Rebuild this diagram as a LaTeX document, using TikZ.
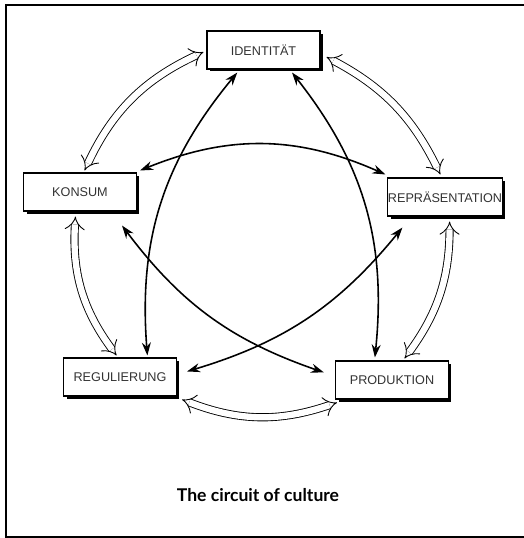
\documentclass[tikz,border=0pt]{standalone}
\usepackage{fontspec}
\setmainfont{Liberation Sans}
\newfontfamily\capfont{Lato}
\usetikzlibrary{arrows.meta, calc, shadows}

\begin{document}
\begin{tikzpicture}[
        x=0.02cm, y=-0.02cm,
        box/.style={rectangle, draw=black, line width=0.6pt, fill=white, minimum width=2.26cm, minimum height=0.76cm, inner sep=0pt, font=\fontsize{7.2}{8}\selectfont, text=black!80, drop shadow={shadow xshift=0.06cm, shadow yshift=-0.05cm, fill=black, opacity=1}},
        hollow/.style={{Implies[length=3mm, width=4.6mm]}-{Implies[length=3mm, width=4.6mm]}, double=white, double distance=3.6pt, line width=0.5pt},
        arr/.style={{Stealth[length=2.6mm, width=1.8mm]}-{Stealth[length=2.6mm, width=1.8mm]}, line width=0.9pt}
      ]
        \useasboundingbox (0,0) rectangle (524,538);
        \draw[line width=1.1pt] (524,5) -- (6,5) -- (6,537) -- (524,537);

        \node[box] (ident) at (263.5,50) {IDENTITÄT};
        \node[box] (konsum) at (80,192) {KONSUM};
        \node[box] (repr) at (445,197) {REPRÄSENTATION};
        \node[box] (regul) at (120,377) {REGULIERUNG};
        \node[box] (prod) at (392,380) {PRODUKTION};

        % outer ring
        \draw[hollow] ($(konsum.north west)!0.54!(konsum.north east)+(0,-2)$) to[bend left=20] ($(ident.west)+(-3,2)$);
        \draw[hollow] ($(ident.east)+(6,7)$) to[bend left=18] ($(repr.north west)!0.46!(repr.north east)+(0,-3)$);
        \draw[hollow] ($(repr.south west)!0.54!(repr.south east)+(0,5)$) to[bend left=18] ($(prod.north west)!0.61!(prod.north east)+(0,-2)$);
        \draw[hollow] ($(prod.south west)+(2,3)$) to[bend left=20] ($(regul.south east)+(5,3)$);
        \draw[hollow] ($(regul.north west)!0.47!(regul.north east)+(0,-2)$) to[bend left=20] ($(konsum.south west)!0.46!(konsum.south east)+(0,5)$);

        % inner links
        \draw[arr] ($(ident.south west)!0.27!(ident.south east)+(0,3)$) to[bend right=22] ($(regul.north west)!0.74!(regul.north east)+(0,-2)$);
        \draw[arr] ($(ident.south west)!0.75!(ident.south east)+(0,3)$) to[bend left=22] ($(prod.north west)!0.35!(prod.north east)+(0,-3)$);
        \draw[arr] ($(konsum.north east)+(3,-2)$) to[bend left=23] ($(repr.north west)+(-2,-3)$);
        \draw[arr] ($(konsum.south east)+(-15,14)$) to[bend right=17] ($(prod.north west)+(-11,12)$);
        \draw[arr] ($(repr.south west)+(15,11)$) to[bend left=17] ($(regul.north east)+(10,14)$);

        \node[font=\capfont\bfseries\fontsize{10}{12}\selectfont] (title) at (258,495) {The circuit of culture};
      \end{tikzpicture}
\end{document}
